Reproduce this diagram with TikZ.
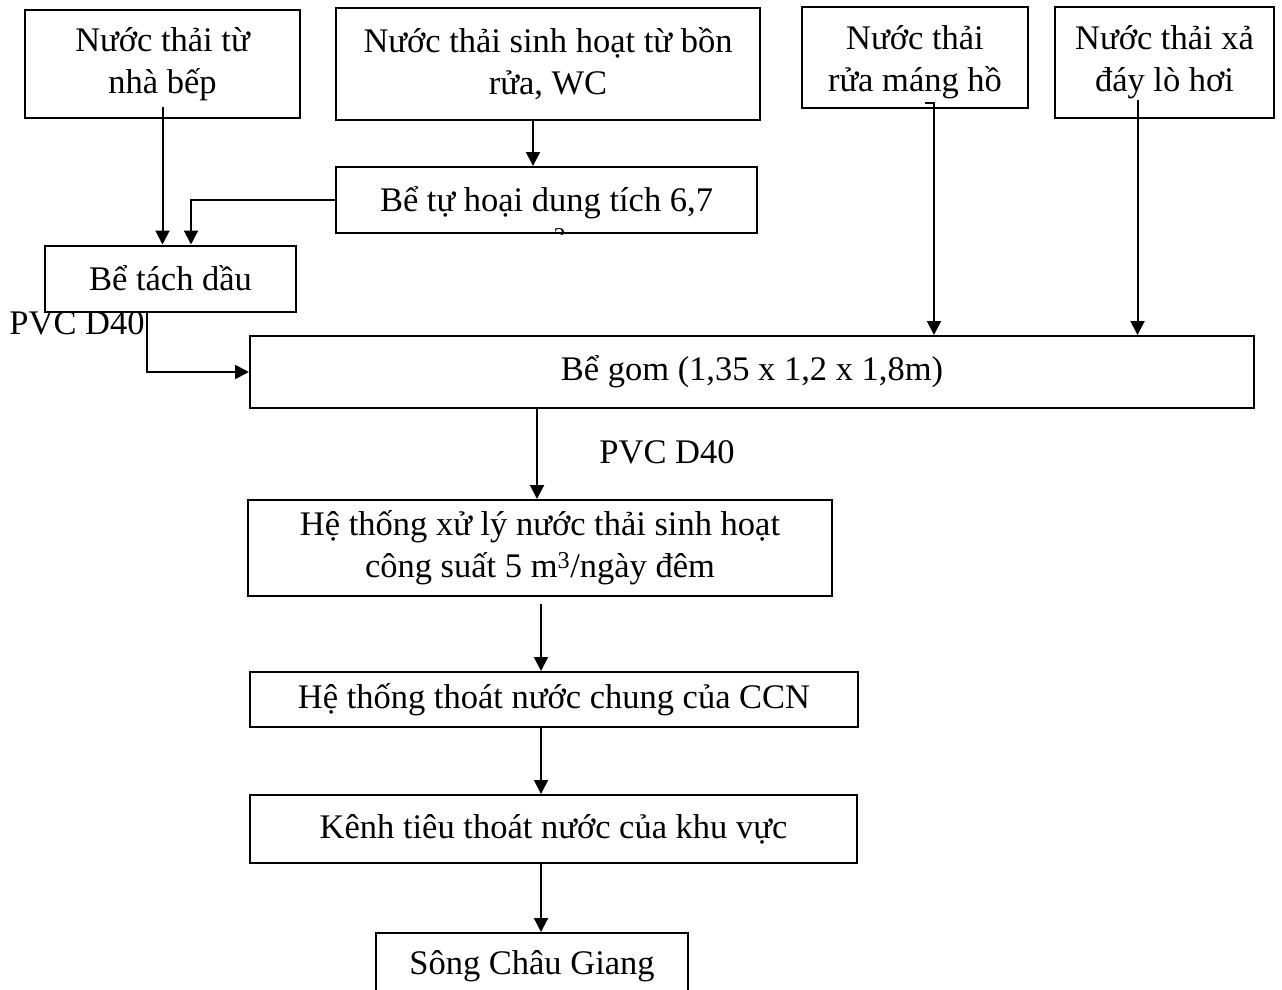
\documentclass[tikz,border=0pt]{standalone}
\usepackage{fontspec}
\setmainfont{Liberation Serif}
\usetikzlibrary{arrows.meta}
\begin{document}
\begin{tikzpicture}[x=1pt,y=-1pt,
  box/.style={draw, line width=2pt, align=center, inner sep=0pt, font=\fontsize{34.5}{42}\selectfont},
  txt/.style={align=center, inner sep=0pt, font=\fontsize{34.5}{42}\selectfont},
  arr/.style={line width=2pt, -{Triangle[length=14pt,width=14pt]}}]
\clip (0,0) rectangle (1282,990);
\fill[white] (0,0) rectangle (1282,990);
% boxes
\node[box, minimum width=275, minimum height=108] (A) at (162.5,64) {Nước thải từ\\nhà bếp};
\node[box, minimum width=424, minimum height=112] (B) at (548,64) {Nước thải sinh hoạt từ bồn\\rửa, WC};
\node[box, minimum width=226, minimum height=101] (C) at (915,57.5) {};
\node[txt] (Ct) at (915,62) {Nước thải\\rửa máng hồ};
\node[box, minimum width=219, minimum height=111] (D) at (1164.5,62.5) {Nước thải xả\\đáy lò hơi};
\node[box, minimum width=421, minimum height=66] (E) at (546.5,200) {};
\begin{scope}
  \clip (E.south west) rectangle (E.north east);
  \node[txt] (Et) at (546.5,220) {Bể tự hoại dung tích 6,7\\m\textsuperscript{3}};
\end{scope}
\node[box, minimum width=251, minimum height=66] (F) at (170.5,278.5) {Bể tách dầu};
\node[box, minimum width=1004, minimum height=72] (G) at (752,372) {Bể gom (1,35 x 1,2 x 1,8m)};
\node[box, minimum width=584, minimum height=96] (H) at (540,548) {Hệ thống xử lý nước thải sinh hoạt\\công suất 5 m\textsuperscript{3}/ngày đêm};
\node[box, minimum width=608, minimum height=55] (I) at (554,699.5) {Hệ thống thoát nước chung của CCN};
\node[box, minimum width=607, minimum height=68] (J) at (553.5,829) {Kênh tiêu thoát nước của khu vực};
\node[box, minimum width=312, minimum height=66] (K) at (532,966) {Sông Châu Giang};
% labels
\node[txt] (L1) at (77,323) {PVC D40};
\node[txt] (L2) at (667,452) {PVC D40};
% helper coordinates
\coordinate (a1) at ([yshift=12pt]A.south);
\coordinate (b1) at ([xshift=-15pt]B.south);
\coordinate (f1) at ([xshift=20.5pt]F.north);
\coordinate (f2) at ([xshift=-23.5pt]F.south);
\coordinate (c0) at ([xshift=10pt,yshift=6pt]C.south);
\coordinate (c1) at ([xshift=19pt]C.south);
\coordinate (d1) at ([xshift=-27pt,yshift=19pt]D.south);
\coordinate (g1) at ([xshift=-215pt]G.south);
\coordinate (col) at (541,0);
% connectors
\draw[arr] (a1) -- (a1 |- F.north);
\draw[arr] (b1) -- (b1 |- E.north);
\draw[arr] (E.west) -| (f1);
\draw[arr] (f2) |- (G.west);
\draw[arr] (c0) -| (c1 |- G.north);
\draw[arr] (d1) -- (d1 |- G.north);
\draw[arr] (g1) -- (g1 |- H.north);
\draw[arr] ([yshift=-7pt]H.south -| col) -- (col |- I.north);
\draw[arr] (col |- I.south) -- (col |- J.north);
\draw[arr] (col |- J.south) -- (col |- K.north);
\end{tikzpicture}
\end{document}
